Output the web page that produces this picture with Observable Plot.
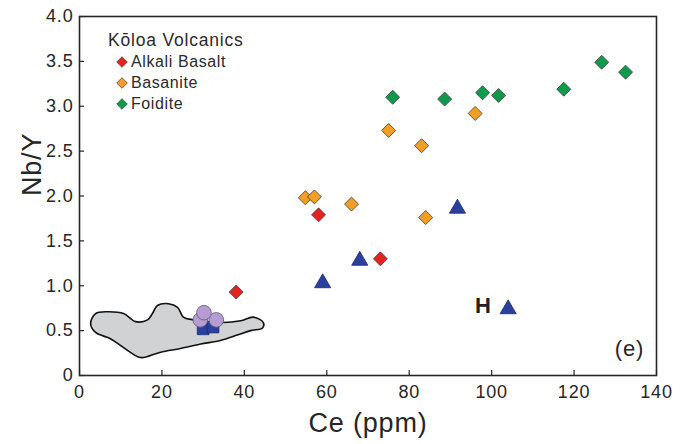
<!DOCTYPE html>
<html>
<head>
<meta charset="utf-8">
<script src="https://cdn.jsdelivr.net/npm/d3@7"></script>
<script src="https://cdn.jsdelivr.net/npm/@observablehq/plot@0.6"></script>
<style>
  html, body { margin: 0; padding: 0; background: #fff; }
  #wrap { position: relative; width: 687px; height: 444px; font-family: "Liberation Sans", Arial, sans-serif; }
  #legend { position: absolute; left: 106px; top: 29px; color: #2a2a2a; }
  #legend .title { font-size: 17.5px; letter-spacing: 0.8px; line-height: 22px; margin-left: 2px; }
  #legend .item { display: flex; align-items: center; font-size: 16px; letter-spacing: 0.6px; height: 21px; margin-left: 10px; }
  #legend .item svg { margin-right: 3px; }
</style>
</head>
<body>
<div id="wrap"></div>
<script>
// ---- Data ----
const xTicks = [0, 20, 40, 60, 80, 100, 120, 140];
const yTicks = [0, 0.5, 1.0, 1.5, 2.0, 2.5, 3.0, 3.5, 4.0];

const seriesNames = ["Alkali Basalt", "Basanite", "Foidite"];
const seriesColors = ["#e4231f", "#f59e25", "#0d9a4a"];

const alkaliCe  = [38, 58, 73];
const alkaliNbY = [0.93, 1.79, 1.30];

const basaniteCe  = [54.8, 57, 66, 75, 83, 84, 96];
const basaniteNbY = [1.98, 1.99, 1.91, 2.73, 2.56, 1.76, 2.92];

const foiditeCe  = [76, 88.6, 97.8, 101.7, 117.5, 126.7, 132.5];
const foiditeNbY = [3.10, 3.08, 3.15, 3.12, 3.19, 3.49, 3.38];

const triCe  = [59, 68, 91.7, 104];
const triNbY = [1.03, 1.28, 1.86, 0.74];

const squareCe  = [30.0, 32.4];
const squareNbY = [0.52, 0.54];

const circleCe  = [29.3, 33.2, 30.2];
const circleNbY = [0.62, 0.62, 0.70];

// outline of grey field
const fieldCe  = [2.7, 3.9, 6.8, 10.7, 13.6, 16.5, 17.7, 18.9, 21.6, 23.8, 25.2, 27.7, 34.9, 39.1, 42.2, 44.6, 44.4, 41.5, 38.3, 34.2, 29.4, 24.5, 19.7, 15.5, 14.1, 10.7, 7.5, 3.9];
const fieldNbY = [0.58, 0.69, 0.71, 0.69, 0.60, 0.62, 0.69, 0.78, 0.80, 0.76, 0.65, 0.62, 0.59, 0.61, 0.65, 0.59, 0.53, 0.50, 0.45, 0.39, 0.35, 0.30, 0.26, 0.20, 0.21, 0.31, 0.41, 0.48];

const annotText = ["H"];
const annotCe   = [98];
const annotNbY  = [0.77];

const panelLabel = "(e)";
const xLabel = "Ce (ppm)";
const yLabel = "Nb/Y";
const legendTitle = "Kōloa Volcanics";

// ---- Build tables ----
const zip = (xs, ys) => xs.map((x, i) => ({x, y: ys[i]}));
const diamonds = [
  ...zip(alkaliCe, alkaliNbY).map(d => ({...d, s: seriesNames[0]})),
  ...zip(basaniteCe, basaniteNbY).map(d => ({...d, s: seriesNames[1]})),
  ...zip(foiditeCe, foiditeNbY).map(d => ({...d, s: seriesNames[2]}))
];
const tris = zip(triCe, triNbY);
const squares = zip(squareCe, squareNbY);
const circles = zip(circleCe, circleNbY);
const field = zip(fieldCe, fieldNbY);
const annots = annotText.map((t, i) => ({t, x: annotCe[i], y: annotNbY[i]}));

const W = 687, H = 444, mL = 79, mR = 31, mT = 16, mB = 69;
const innerW = W - mL - mR, innerH = H - mT - mB;
const ink = "#262626";

const chart = Plot.plot({
  width: W, height: H,
  marginLeft: mL, marginRight: mR, marginTop: mT, marginBottom: mB,
  style: {fontFamily: "'Liberation Sans', Arial, sans-serif", color: ink, background: "#fff"},
  x: {domain: [0, 140]},
  y: {domain: [0, 4]},
  color: {domain: seriesNames, range: seriesColors},
  marks: [
    Plot.line(field, {x: "x", y: "y", curve: "catmull-rom-closed", fill: "#d1d2d4", stroke: "#111", strokeWidth: 1.6}),
    Plot.dot(squares, {x: "x", y: "y", symbol: "square", r: 6.6, fill: "#2b3f9c", stroke: "#1d2a6e", strokeWidth: 0.8}),
    Plot.dot(circles, {x: "x", y: "y", symbol: "circle", r: 7.3, fill: "#b59dd3", stroke: "#6b6080", strokeWidth: 0.9}),
    Plot.dot(tris, {x: "x", y: "y", symbol: "triangle", r: 6, fill: "#2b3f9c", stroke: "#1d2a6e", strokeWidth: 0.8}),
    Plot.dot(diamonds, {x: "x", y: "y", symbol: "diamond2", r: 6.3, fill: "s", stroke: "#4a4a4a", strokeWidth: 0.9}),
    Plot.text(annots, {x: "x", y: "y", text: "t", fontSize: 22, fontWeight: "bold", fill: "#222"}),
    Plot.gridX(xTicks, {stroke: ink, strokeOpacity: 1, strokeWidth: 1.2, insetTop: innerH - 5}),
    Plot.gridY(yTicks, {stroke: ink, strokeOpacity: 1, strokeWidth: 1.2, insetRight: innerW - 5}),
    Plot.axisX(xTicks, {tickSize: 0, tickPadding: 10, fontSize: 18, label: null, tickFormat: d => String(d), fill: ink}),
    Plot.axisY(yTicks, {tickSize: 0, tickPadding: 6, fontSize: 18, label: null, tickFormat: d => d === 0 ? "0" : d.toFixed(1), fill: ink}),
    Plot.frame({stroke: ink, strokeWidth: 1.6}),
    Plot.text([xLabel], {frameAnchor: "bottom", dy: 56, fontSize: 27, fill: ink}),
    Plot.text([yLabel], {frameAnchor: "left", dx: -47, rotate: -90, fontSize: 27, fill: ink}),
    Plot.text([panelLabel], {frameAnchor: "bottom-right", dx: -27, dy: -20, fontSize: 22, textAnchor: "middle", fill: ink})
  ]
});
chart.querySelectorAll("text").forEach(t => t.style.letterSpacing = "0.8px");

const wrap = document.getElementById("wrap");
wrap.appendChild(chart);

// legend (HTML overlay inside the plot frame)
const legend = document.createElement("div");
legend.id = "legend";
const title = document.createElement("div");
title.className = "title";
title.textContent = legendTitle;
legend.appendChild(title);
seriesNames.forEach((name, i) => {
  const row = document.createElement("div");
  row.className = "item";
  row.innerHTML = `<svg width="12" height="12" viewBox="-6 -6 12 12"><path d="M0,-5.3L5.3,0L0,5.3L-5.3,0Z" fill="${seriesColors[i]}" stroke="#4a4a4a" stroke-width="0.8"/></svg><span>${name}</span>`;
  legend.appendChild(row);
});
wrap.appendChild(legend);
</script>
</body>
</html>
